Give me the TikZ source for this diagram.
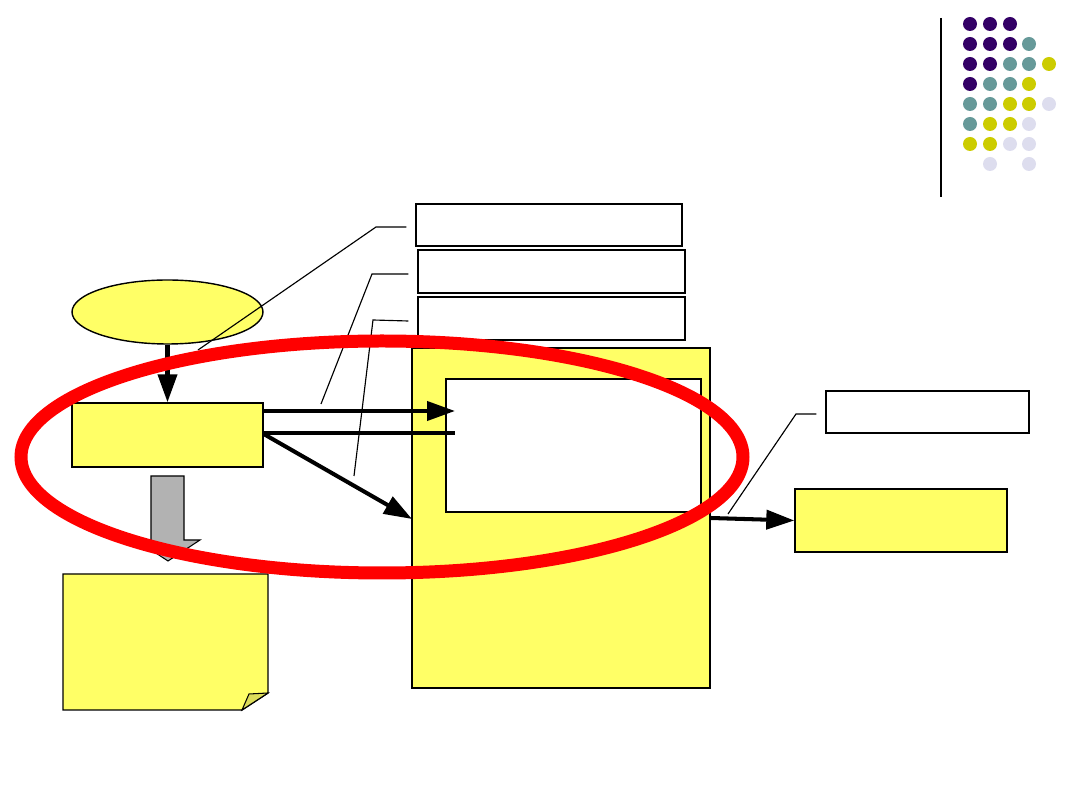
\documentclass[tikz,border=0pt]{standalone}
\usetikzlibrary{arrows.meta,shapes.geometric,fit}
\definecolor{ylw}{HTML}{FFFF66}
\definecolor{flap}{HTML}{DCDC5A}
\definecolor{dpurple}{HTML}{330066}
\definecolor{dteal}{HTML}{669999}
\definecolor{dyellow}{HTML}{CCCC00}
\definecolor{dlav}{HTML}{DDDDEE}
\definecolor{gry}{HTML}{B2B2B2}
\tikzset{
  px/.style={x=0.02cm,y=-0.02cm},
  box/.style={draw=black,line width=0.8pt,inner sep=0pt},
  ybox/.style={box,fill=ylw},
  wbox/.style={box,fill=white},
  lead/.style={draw=black,line width=0.65pt},
  fat/.style={draw=black,line width=2.3pt,-{Triangle[length=0.56cm,width=0.38cm]}},
  fatplain/.style={draw=black,line width=2.3pt},
  dot/.style={circle,inner sep=0pt,minimum size=0.28cm},
}
\begin{document}
\begin{tikzpicture}[px]
\useasboundingbox (0,0) rectangle (1080,810);
% logo
\draw[line width=0.8pt] (941,18) -- (941,197);
\foreach \x/\y/\c in {970/24/dpurple,990/24/dpurple,1010/24/dpurple,
  970/44/dpurple,990/44/dpurple,1010/44/dpurple,1029/44/dteal,
  970/64/dpurple,990/64/dpurple,1010/64/dteal,1029/64/dteal,1049/64/dyellow,
  970/84/dpurple,990/84/dteal,1010/84/dteal,1029/84/dyellow,
  970/104/dteal,990/104/dteal,1010/104/dyellow,1029/104/dyellow,1049/104/dlav,
  970/124/dteal,990/124/dyellow,1010/124/dyellow,1029/124/dlav,
  970/144/dyellow,990/144/dyellow,1010/144/dlav,1029/144/dlav,
  990/164/dlav,1029/164/dlav}
  \node[dot,fill=\c] at (\x,\y) {};
% big yellow frame and inner white
\node[ybox,fit={(412,348)(710,688)}] (big) {};
\node[wbox,fit={(446,379)(701,512)}] (inner) {};
% callout boxes
\node[wbox,fit={(416,204)(682,246)}] (c1) {};
\node[wbox,fit={(418,250)(685,293)}] (c2) {};
\node[wbox,fit={(418,297)(685,340)}] (c3) {};
\node[wbox,fit={(826,391)(1029,433)}] (c4) {};
% yellow ellipse and boxes
\node[ellipse,draw=black,line width=0.8pt,fill=ylw,minimum width=3.82cm,minimum height=1.28cm,inner sep=0pt] (ell) at (167.5,312) {};
\node[ybox,fit={(72,403)(263,467)}] (a) {};
\node[ybox,fit={(795,489)(1007,552)}] (b) {};
% leader lines
\coordinate (l1) at (198,350);
\coordinate (l2) at (321,404);
\coordinate (l3) at (354,476);
\coordinate (l4) at (728,514);
\draw[lead] (c1.west |- 0,227) ++(-9,0) -- (376,227) -- (l1);
\draw[lead] (c2.west |- 0,274) ++(-9,0) -- (372,274) -- (l2);
\draw[lead] (c3.west |- 0,321) ++(-9,0) -- (373,320) -- (l3);
\draw[lead] (c4.west |- 0,414) ++(-9,0) -- (796,414) -- (l4);
% arrows
\draw[fat] (ell.south) -- (a.north);
\coordinate (t1) at (455,411);
\coordinate (t2) at (455,433);
\coordinate (t3) at (412,519);
\draw[fat] (a.east |- t1) -- (t1);
\draw[fatplain] (a.east |- t2) -- (t2);
\draw[fat] (a.east |- 0,434) -- (t3);
\draw[fat] (big.east |- 0,518) -- (b.west);
% gray block arrow
\draw[line width=0.6pt,fill=gry] (151,476) -- (184,476) -- (184,540) -- (200,540) -- (168,561) -- (136,540) -- (151,540) -- cycle;
% note with folded corner
\draw[line width=0.8pt,fill=ylw] (63,574) -- (268,574) -- (268,693) -- (242,710) -- (63,710) -- cycle;
\draw[line width=0.6pt,fill=flap] (242,710) -- (249,694) -- (268,693) -- cycle;
% red ellipse
\draw[red,line width=0.26cm] (382,457) ellipse [x radius=361, y radius=116];
\end{tikzpicture}
\end{document}
